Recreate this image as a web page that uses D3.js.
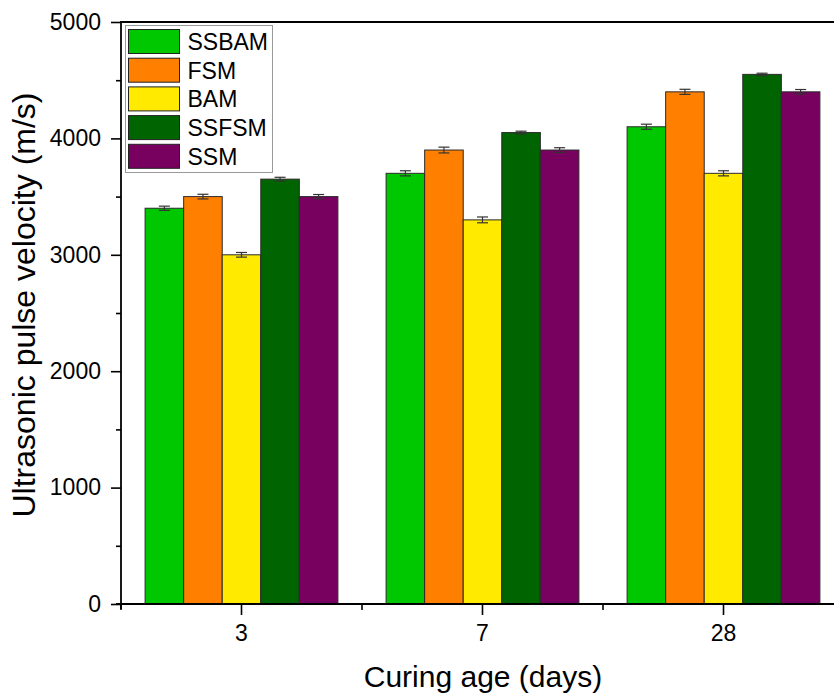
<!DOCTYPE html>
<html>
<head>
<meta charset="utf-8">
<script src="https://cdn.jsdelivr.net/npm/d3@7/dist/d3.min.js"></script>
<style>
  html, body { margin: 0; padding: 0; background: #fff; }
  svg { display: block; font-family: "Liberation Sans", Arial, sans-serif; }
</style>
</head>
<body>
<svg id="chart" width="834" height="694"></svg>
<script>
// Curing ages (x categories)
const ages = ["3", "7", "28"];
// Mix designs (series)
const mixes = ["SSBAM", "FSM", "BAM", "SSFSM", "SSM"];
const mixColors = ["#00c800", "#ff8000", "#ffea00", "#006400", "#78005f"];
// Mean ultrasonic pulse velocity (m/s) per age, one array per mix
const ssbam = [3400, 3700, 4100];
const fsm   = [3500, 3900, 4400];
const bam   = [3000, 3300, 3700];
const ssfsm = [3650, 4050, 4550];
const ssm   = [3500, 3900, 4400];
// Standard deviations (m/s)
const ssbamErr = [18, 22, 22];
const fsmErr   = [20, 25, 22];
const bamErr   = [20, 25, 22];
const ssfsmErr = [16, 12, 10];
const ssmErr   = [18, 20, 20];
const yTicks = [0, 1000, 2000, 3000, 4000, 5000];

const values = [ssbam, fsm, bam, ssfsm, ssm];
const errors = [ssbamErr, fsmErr, bamErr, ssfsmErr, ssmErr];

const svg = d3.select("#chart");
const plotLeft = 121, plotRight = 844, plotTop = 22, plotBottom = 604;

const x = d3.scaleBand().domain(ages).range([plotLeft, plotRight]).paddingInner(0).paddingOuter(0);
const groupPad = 0.1;
const xs = d3.scaleBand().domain(mixes)
  .range([x.bandwidth() * groupPad, x.bandwidth() * (1 - groupPad)]);
const y = d3.scaleLinear().domain([0, 5000]).range([plotBottom, plotTop]);

// Bars
const rows = [];
mixes.forEach((m, i) => ages.forEach((a, j) => rows.push({
  mix: m, age: a, v: values[i][j], e: errors[i][j], c: mixColors[i]
})));

const g = svg.append("g");
g.selectAll("rect.bar").data(rows).enter().append("rect")
  .attr("class", "bar")
  .attr("x", d => x(d.age) + xs(d.mix))
  .attr("y", d => y(d.v))
  .attr("width", xs.bandwidth())
  .attr("height", d => y(0) - y(d.v))
  .attr("fill", d => d.c)
  .attr("stroke", "#2a2a2a")
  .attr("stroke-width", 1);

// Error bars
const eb = g.selectAll("g.err").data(rows).enter().append("g")
  .attr("class", "err")
  .attr("stroke", "#333")
  .attr("stroke-width", 1.2);
const cx = d => x(d.age) + xs(d.mix) + xs.bandwidth() / 2;
eb.append("line")
  .attr("x1", cx).attr("x2", cx)
  .attr("y1", d => y(d.v + d.e)).attr("y2", d => y(d.v - d.e));
eb.append("line")
  .attr("x1", d => cx(d) - 5.5).attr("x2", d => cx(d) + 5.5)
  .attr("y1", d => y(d.v + d.e)).attr("y2", d => y(d.v + d.e));
eb.append("line")
  .attr("x1", d => cx(d) - 5.5).attr("x2", d => cx(d) + 5.5)
  .attr("y1", d => y(d.v - d.e)).attr("y2", d => y(d.v - d.e));

// Y axis with minor ticks
const yAxis = d3.axisLeft(y).tickValues(yTicks).tickSize(10).tickPadding(10).tickFormat(d3.format("d"));
const yMinor = d3.axisLeft(y).tickValues(d3.range(500, 5000, 1000)).tickSize(5).tickFormat("");
const ya = svg.append("g").attr("transform", `translate(${plotLeft},0)`).call(yAxis);
svg.append("g").attr("transform", `translate(${plotLeft},0)`).call(yMinor).select(".domain").remove();
ya.select(".domain").remove();
ya.selectAll("text").attr("font-size", 23).attr("fill", "#000");
svg.selectAll(".tick line").attr("stroke", "#000").attr("stroke-width", 1.6);
svg.append("line").attr("x1", plotLeft).attr("x2", plotLeft).attr("y1", plotTop - 1).attr("y2", plotBottom + 5)
  .attr("stroke", "#000").attr("stroke-width", 1.8);

// X axis with minor ticks at group boundaries
const xAxis = d3.axisBottom(x).tickSize(11).tickPadding(10);
const xa = svg.append("g").attr("transform", `translate(0,${plotBottom})`).call(xAxis);
xa.select(".domain").remove();
xa.selectAll("text").attr("font-size", 23).attr("fill", "#000");
xa.selectAll(".tick line").attr("stroke", "#000").attr("stroke-width", 1.6);
const boundaries = ages.map(a => x(a)).concat([plotRight]);
svg.append("g").selectAll("line").data(boundaries).enter().append("line")
  .attr("x1", d => d).attr("x2", d => d)
  .attr("y1", plotBottom).attr("y2", plotBottom + 6)
  .attr("stroke", "#000").attr("stroke-width", 1.6);
svg.append("line").attr("x1", plotLeft - 5).attr("x2", plotRight).attr("y1", plotBottom).attr("y2", plotBottom)
  .attr("stroke", "#000").attr("stroke-width", 1.8);

// Top frame
svg.append("line").attr("x1", plotLeft).attr("x2", plotRight).attr("y1", plotTop).attr("y2", plotTop)
  .attr("stroke", "#000").attr("stroke-width", 1.8);

// Axis titles
svg.append("text")
  .attr("transform", `translate(35,305) rotate(-90)`)
  .attr("text-anchor", "middle")
  .attr("font-size", 32)
  .text("Ultrasonic pulse velocity (m/s)");
svg.append("text")
  .attr("x", 483).attr("y", 687)
  .attr("text-anchor", "middle")
  .attr("font-size", 30)
  .text("Curing age (days)");

// Legend
const lg = svg.append("g");
lg.append("rect").attr("x", 125.5).attr("y", 25.5).attr("width", 147).attr("height", 147)
  .attr("fill", "#fff").attr("stroke", "#999").attr("stroke-width", 1);
const item = lg.selectAll("g.item").data(mixes).enter().append("g")
  .attr("class", "item")
  .attr("transform", (d, i) => `translate(128.5,${29.5 + i * 28.7})`);
item.append("rect").attr("width", 51).attr("height", 24)
  .attr("fill", (d, i) => mixColors[i]).attr("stroke", "#222").attr("stroke-width", 1);
item.append("text").attr("x", 59).attr("y", 20.5).attr("font-size", 23).text(d => d);
</script>
</body>
</html>
